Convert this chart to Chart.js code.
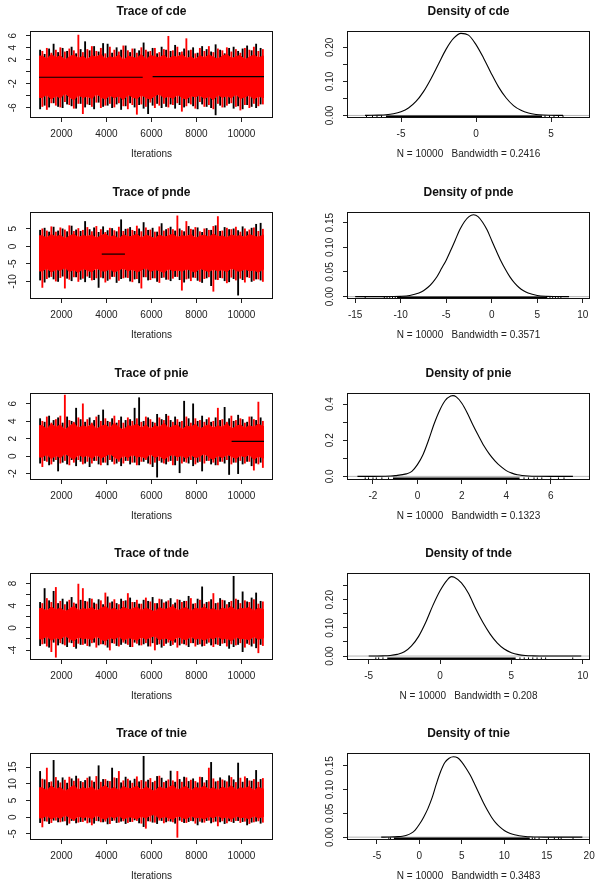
<!DOCTYPE html>
<html><head><meta charset="utf-8">
<script src="https://cdn.jsdelivr.net/npm/chart.js@4.4.1/dist/chart.umd.min.js"></script>
<style>
html,body{margin:0;padding:0;background:#fff;}
body{width:604px;height:888px;position:relative;overflow:hidden;}
.panel{position:absolute;}
canvas{display:block;}
</style></head><body>
<script>
// ---------------- DATA ----------------
const params = ["cde", "pnde", "pnie", "tnde", "tnie"];
const bandwidths = ["0.2416", "0.3571", "0.1323", "0.208", "0.3483"];
const sampleSize = 10000;
const traceXRange = [601, 11400];
const chainRange = [1001, 11000];
const traceXTicks = [2000, 4000, 6000, 8000, 10000];
const traceXLabels = ["2000", "4000", "6000", "8000", "10000"];

// iteration bins at which the extremes of each chain were read (black chain / red chain)
const blackIter = [1050,1250,1450,1650,1850,2050,2250,2450,2650,2850,3050,3250,3450,3650,3850,4050,4250,4450,4650,4850,5050,5250,5450,5650,5850,6050,6250,6450,6650,6850,7050,7250,7450,7650,7850,8050,8250,8450,8650,8850,9050,9250,9450,9650,9850,10050,10250,10450,10650,10850];
const redIter = [1150,1350,1550,1750,1950,2150,2350,2550,2750,2950,3150,3350,3550,3750,3950,4150,4350,4550,4750,4950,5150,5350,5550,5750,5950,6150,6350,6550,6750,6950,7150,7350,7550,7750,7950,8150,8350,8550,8750,8950,9150,9350,9550,9750,9950,10150,10350,10550,10750,10950];

// cde trace
const cdeBlackHi = [3.6,2.9,3.8,4.6,3.2,3.9,3.4,4.1,3.0,3.7, 5.0,3.5,4.2,3.3,4.7,4.6,3.1,4.0,3.6,4.3, 3.2,3.8,3.5,4.8,3.3,3.9,3.0,4.1,3.6,3.4, 4.4,3.2,3.8,3.5,4.0,3.1,4.2,3.7,3.3,4.5, 3.6,3.0,3.9,4.1,3.4,3.8,4.3,3.5,4.6,3.9];
const cdeBlackLo = [-6.2,-5.6,-5.9,-5.2,-5.8,-6.0,-5.4,-5.7,-6.1,-5.3, -5.9,-5.5,-6.2,-5.1,-5.8,-5.6,-6.0,-5.4,-6.3,-5.7, -5.2,-5.9,-5.5,-6.1,-7.0,-5.6,-5.3,-6.0,-5.8,-5.4, -6.1,-5.5,-5.9,-5.2,-5.7,-6.2,-5.4,-5.8,-6.0,-7.2, -5.6,-5.9,-5.3,-6.1,-5.7,-6.2,-5.5,-5.8,-6.0,-5.4];
const cdeRedHi = [3.4,3.9,3.1,3.6,4.0,3.3,3.8,3.5,6.1,3.2, 3.7,4.2,3.4,3.9,3.0,4.1,3.6,3.3,4.3,3.5, 3.8,3.1,4.0,3.6,3.4,3.9,3.2,3.7,5.9,3.5, 4.1,3.3,5.5,3.6,3.0,3.9,3.4,4.2,3.2,3.8, 3.5,4.0,3.3,3.7,3.1,3.9,3.6,4.1,3.4,3.7];
const cdeRedLo = [-5.8,-6.3,-5.2,-5.6,-5.9,-5.0,-5.5,-6.1,-5.3,-7.0, -5.4,-5.8,-5.1,-6.0,-5.6,-5.3,-5.9,-5.2,-5.7,-6.2, -5.5,-7.1,-5.4,-5.8,-5.1,-6.0,-5.6,-5.3,-5.9,-5.5, -5.2,-6.6,-5.7,-5.4,-6.1,-5.0,-5.8,-5.5,-6.2,-5.3, -5.9,-5.6,-5.2,-5.8,-6.4,-5.5,-6.0,-5.3,-5.7,-5.4];
const cdeEnvHi = [2.6,2.1,2.9,2.3,2.7,1.9,2.5,2.8,2.2,2.6, 2.0,2.7,2.4,2.9,2.1,2.5,2.3,2.8,1.9,2.6, 2.4,2.2,2.9,2.0,2.7,2.5,2.3,2.8,2.1,2.6, 2.4,2.9,2.2,2.5,2.0,2.7,2.3,2.8,2.4,2.1, 2.6,2.9,2.2,2.5,2.7,2.0,2.4,2.8,2.3,2.6];
const cdeEnvLo = [-4.3,-3.8,-4.6,-4.0,-4.4,-3.6,-4.2,-4.7,-3.9,-4.3, -4.1,-4.5,-3.7,-4.2,-4.6,-3.9,-4.4,-4.0,-4.7,-3.8, -4.2,-4.5,-3.9,-4.3,-4.6,-4.0,-3.7,-4.4,-4.1,-4.5, -3.8,-4.3,-4.6,-4.0,-4.2,-3.9,-4.5,-4.1,-4.7,-3.8, -4.3,-4.0,-4.4,-3.7,-4.5,-4.2,-3.9,-4.6,-4.1,-4.3];
const cdeCore = [-3.5, 1.8];
const cdeFlat = [[1001, 5610, -0.93], [6050, 11000, -0.82]];
const cdeTraceY = [-7.72, 6.78];
const cdeTraceTicks = [-6, -4, -2, 0, 2, 4, 6];
const cdeTraceLabels = ["-6", "", "-2", "", "2", "4", "6"];

// pnde trace
const pndeBlackHi = [4.6,5.2,4.1,5.5,4.4,5.0,4.2,5.8,4.7,4.3, 7.1,4.8,5.3,4.0,5.6,4.5,5.1,4.2,7.6,4.9, 5.4,4.3,5.0,6.8,4.6,5.2,4.1,6.5,4.8,5.5, 4.4,5.0,4.2,5.7,4.7,5.3,4.0,5.1,4.6,5.9, 4.3,5.4,4.8,5.0,4.5,5.6,4.2,5.2,6.3,6.6];
const pndeBlackLo = [-9.6,-10.2,-8.8,-9.3,-10.0,-8.5,-9.1,-9.8,-8.7,-9.4, -10.1,-8.9,-9.5,-11.7,-9.0,-9.7,-8.6,-10.3,-9.2,-8.8, -9.9,-9.3,-10.4,-8.7,-9.6,-9.0,-10.0,-8.9,-9.4,-9.8, -8.6,-9.5,-10.2,-9.1,-8.8,-9.7,-10.3,-9.0,-11.2,-9.4, -8.9,-9.8,-10.1,-9.2,-13.9,-9.5,-8.7,-10.0,-9.3,-9.6];
const pndeRedHi = [5.0,4.4,5.6,4.1,5.3,4.7,5.9,4.3,5.1,4.6, 5.4,4.2,5.7,4.8,4.0,5.2,4.5,5.5,4.3,5.0, 4.6,5.8,4.2,5.3,4.7,4.1,5.6,4.4,5.1,4.8, 8.7,4.5,7.1,4.9,5.4,4.2,5.0,4.6,5.7,8.5, 4.4,5.2,4.8,5.5,4.1,5.0,4.7,5.3,4.3,4.9];
const pndeRedLo = [-11.7,-9.2,-8.6,-9.9,-8.9,-11.9,-9.4,-8.7,-10.0,-9.1, -8.5,-9.6,-9.0,-8.8,-10.2,-9.3,-8.6,-9.7,-9.0,-8.9, -10.1,-9.2,-11.9,-8.7,-9.5,-9.0,-10.3,-8.8,-9.4,-9.1, -8.6,-12.5,-9.3,-9.8,-8.9,-10.0,-9.2,-8.7,-12.8,-9.5, -9.0,-10.4,-8.8,-9.6,-9.1,-10.2,-8.9,-9.7,-9.3,-10.0];
const pndeEnvHi = [3.0,2.4,3.4,2.7,3.2,2.2,2.9,3.5,2.5,3.1, 2.8,3.3,2.3,3.0,3.6,2.6,3.1,2.1,3.4,2.7, 2.9,3.5,2.4,3.2,2.8,2.2,3.3,2.6,3.0,3.5, 2.5,3.1,2.8,3.4,2.3,2.9,3.2,2.6,3.6,2.7, 3.0,2.4,3.3,2.8,3.1,2.5,3.4,2.9,2.6,3.2];
const pndeEnvLo = [-7.0,-6.2,-7.4,-6.5,-6.9,-6.0,-7.2,-6.6,-7.5,-6.3, -6.8,-7.3,-6.1,-6.9,-7.1,-6.4,-7.4,-6.7,-6.2,-7.0, -6.5,-7.3,-6.8,-6.0,-7.2,-6.6,-6.9,-7.5,-6.3,-7.0, -6.7,-7.1,-6.4,-6.9,-7.4,-6.2,-6.8,-7.2,-6.5,-7.0, -6.6,-7.3,-6.1,-6.9,-7.1,-6.4,-7.0,-6.7,-7.4,-6.5];
const pndeCore = [-5.8, 2.0];
const pndeFlat = [[3790, 4820, -2.2]];
const pndeTraceY = [-15.0, 9.8];
const pndeTraceTicks = [-10, -5, 0, 5];
const pndeTraceLabels = ["-10", "-5", "0", "5"];

// pnie trace
const pnieBlackHi = [4.3,3.9,4.6,4.1,4.4,3.8,4.5,4.0,5.5,4.2, 3.9,4.4,4.1,4.7,5.3,4.0,4.3,3.8,4.5,4.1, 4.2,5.5,6.7,4.0,4.4,3.9,4.8,4.2,4.8,4.1, 4.5,3.9,6.3,4.3,6.0,4.0,4.6,4.2,3.9,4.4, 4.1,5.6,4.3,4.0,4.7,4.2,3.9,4.5,4.1,4.4];
const pnieBlackLo = [-0.8,-0.5,-1.0,-0.6,-1.7,-0.7,-0.9,-0.4,-1.1,-0.6, -0.8,-1.2,-0.5,-0.9,-0.7,-1.0,-0.6,-0.8,-1.1,-0.5, -0.9,-0.7,-1.0,-0.6,-0.8,-1.2,-2.4,-0.7,-0.9,-0.5, -1.0,-1.9,-0.6,-0.8,-1.1,-0.7,-1.7,-0.5,-0.9,-1.0, -0.6,-0.8,-2.1,-0.7,-2.0,-0.9,-0.6,-1.1,-0.8,-0.7];
const pnieRedHi = [4.0,4.5,3.8,4.2,4.6,7.0,4.1,3.9,4.4,6.0, 4.2,3.8,4.5,4.0,4.3,3.9,4.6,4.1,3.8,4.4, 4.0,4.3,3.9,4.5,4.2,3.8,4.4,4.1,4.6,3.9, 4.2,4.0,4.5,3.8,4.3,4.1,3.9,4.4,4.0,5.5, 4.2,3.9,4.6,4.1,4.3,3.8,4.5,4.2,6.2,4.0];
const pnieRedLo = [-1.2,-0.6,-0.9,-0.4,-0.8,-0.5,-1.0,-0.7,-0.4,-0.9, -0.6,-0.8,-0.5,-1.0,-0.7,-0.4,-0.9,-0.6,-0.8,-0.5, -0.7,-1.0,-0.6,-0.4,-0.9,-0.7,-0.5,-0.8,-0.6,-1.0, -0.5,-0.8,-0.7,-0.4,-0.9,-0.6,-0.8,-0.5,-0.7,-1.0, -0.6,-0.4,-0.9,-0.7,-0.5,-0.8,-0.6,-1.6,-0.9,-1.3];
const pnieEnvHi = [3.5,3.1,3.7,3.3,3.6,3.0,3.4,3.8,3.2,3.5, 3.3,3.7,3.1,3.4,3.6,3.2,3.8,3.3,3.0,3.5, 3.4,3.7,3.2,3.6,3.1,3.5,3.3,3.8,3.2,3.4, 3.6,3.0,3.5,3.3,3.7,3.1,3.4,3.6,3.2,3.5, 3.3,3.8,3.1,3.4,3.6,3.2,3.5,3.3,3.7,3.4];
const pnieEnvLo = [-0.1,0.2,-0.3,0.1,-0.2,0.3,0.0,-0.4,0.2,-0.1, 0.1,-0.3,0.2,-0.2,0.0,0.3,-0.1,-0.4,0.1,-0.2, 0.2,-0.1,0.0,-0.3,0.3,-0.2,0.1,-0.4,0.0,0.2, -0.1,0.1,-0.3,0.2,-0.2,0.0,0.3,-0.1,-0.4,0.1, -0.2,0.2,0.0,-0.3,0.1,-0.1,0.2,-0.4,0.0,-0.2];
const pnieCore = [0.3, 3.0];
const pnieFlat = [[9560, 11000, 1.7]];
const pnieTraceY = [-2.73, 7.24];
const pnieTraceTicks = [-2, 0, 2, 4, 6];
const pnieTraceLabels = ["-2", "0", "2", "4", "6"];

// tnde trace
const tndeBlackHi = [4.6,7.1,4.9,6.6,4.4,5.2,4.7,5.5,4.3,5.0, 4.8,5.3,4.5,5.1,4.2,5.6,4.7,4.4,5.2,4.9, 5.4,4.6,4.3,5.0,4.8,5.5,4.4,5.1,4.7,5.3, 4.5,5.0,4.8,5.7,4.3,5.2,7.4,4.6,5.1,4.4, 5.3,4.9,4.6,9.3,5.0,6.5,4.7,5.4,6.3,4.8];
const tndeBlackLo = [-3.2,-2.8,-3.5,-2.6,-3.1,-2.9,-3.4,-2.7,-3.7,-3.0, -2.8,-3.3,-2.6,-3.1,-2.9,-3.5,-2.7,-3.2,-3.0,-2.8, -3.4,-2.6,-3.1,-2.9,-3.3,-2.7,-3.0,-3.5,-2.8,-3.2, -2.6,-3.1,-2.9,-3.4,-2.7,-3.0,-3.3,-2.8,-3.1,-2.9, -3.2,-2.7,-3.7,-3.4,-3.0,-4.3,-2.8,-3.3,-3.6,-3.0];
const tndeRedHi = [4.4,5.3,4.6,7.3,4.8,4.2,5.0,4.5,7.9,7.1, 4.7,5.2,4.3,4.9,6.3,4.5,5.1,4.2,4.8,6.2, 4.6,5.0,4.3,5.4,4.7,4.4,5.2,4.5,4.9,4.2, 5.1,4.6,4.8,5.3,4.4,5.0,4.3,4.7,6.2,4.5, 5.0,4.2,4.8,5.2,4.4,4.9,4.6,5.1,4.3,4.7];
const tndeRedLo = [-2.9,-3.3,-4.3,-5.3,-2.7,-3.1,-2.6,-3.4,-2.8,-3.0, -3.2,-2.7,-3.5,-2.9,-3.1,-4.0,-2.8,-3.3,-2.6,-3.0, -3.4,-2.8,-3.1,-2.7,-3.3,-4.0,-2.9,-3.2,-2.6,-3.0, -3.5,-2.8,-3.1,-2.7,-3.3,-2.9,-3.2,-2.6,-3.4,-3.0, -2.8,-3.3,-2.9,-3.1,-2.7,-3.5,-3.0,-2.8,-4.5,-3.2];
const tndeEnvHi = [3.5,3.0,3.8,3.2,3.6,2.9,3.4,3.9,3.1,3.5, 3.3,3.7,3.0,3.5,3.9,3.2,3.6,3.0,3.8,3.3, 3.4,3.8,3.1,3.6,3.2,2.9,3.7,3.3,3.5,3.9, 3.1,3.4,3.7,3.0,3.6,3.3,3.8,3.2,3.5,3.0, 3.6,3.3,3.9,3.1,3.5,3.4,3.7,3.0,3.6,3.3];
const tndeEnvLo = [-2.0,-1.5,-2.3,-1.7,-2.1,-1.4,-1.9,-2.4,-1.6,-2.0, -1.8,-2.2,-1.5,-2.0,-2.4,-1.7,-2.1,-1.5,-2.3,-1.8, -1.9,-2.3,-1.6,-2.1,-1.7,-1.4,-2.2,-1.8,-2.0,-2.4, -1.6,-1.9,-2.2,-1.5,-2.1,-1.8,-2.3,-1.7,-2.0,-1.5, -2.1,-1.8,-2.4,-1.6,-2.0,-1.9,-2.2,-1.5,-2.1,-1.8];
const tndeCore = [-1.4, 2.9];
const tndeFlat = [];
const tndeTraceY = [-5.8, 9.9];
const tndeTraceTicks = [-4, -2, 0, 2, 4, 6, 8];
const tndeTraceLabels = ["-4", "", "0", "", "4", "", "8"];

// tnie trace
const tnieBlackHi = [13.7,11.2,10.4,17.0,10.9,11.8,10.2,11.5,12.3,10.7, 11.0,12.1,10.5,15.4,11.3,10.8,14.7,11.6,10.3,12.0, 10.9,11.4,10.6,18.2,11.1,10.4,12.2,11.7,10.8,13.8, 10.5,11.3,12.0,10.7,11.5,10.3,11.9,11.0,16.4,10.6, 11.8,10.9,12.4,11.2,16.2,10.5,11.6,10.8,14.0,11.3];
const tnieBlackLo = [-1.6,-1.1,-1.9,-0.9,-1.4,-1.2,-2.3,-1.0,-1.7,-1.3, -0.9,-1.5,-1.8,-1.1,-1.4,-2.0,-1.0,-1.6,-1.2,-1.9, -1.3,-0.8,-1.7,-2.8,-1.1,-1.5,-1.9,-1.0,-1.4,-1.2, -1.8,-0.9,-1.6,-1.3,-1.1,-2.3,-1.5,-1.0,-1.7,-1.2, -1.4,-1.9,-1.1,-1.6,-1.0,-1.3,-2.3,-1.5,-1.2,-1.8];
const tnieRedHi = [11.4,14.7,10.6,11.9,10.3,11.1,12.0,10.8,11.5,10.4, 11.7,10.9,12.2,10.5,11.3,10.7,11.8,13.7,10.9,11.4, 10.2,12.1,11.0,10.6,11.6,10.8,12.3,10.4,11.2,10.9, 13.7,10.5,11.8,11.1,10.7,12.0,10.3,14.7,11.5,10.8, 11.2,10.6,11.9,10.4,11.7,12.1,10.9,11.3,10.5,11.6];
const tnieRedLo = [-2.9,-1.2,-1.6,-0.9,-1.4,-1.1,-1.8,-1.0,-1.5,-1.3, -1.7,-2.3,-1.0,-1.4,-1.2,-1.9,-0.9,-1.5,-1.1,-1.6, -1.3,-1.0,-1.8,-3.3,-1.2,-1.5,-0.9,-1.7,-1.1,-1.4, -6.0,-1.3,-1.6,-1.0,-1.8,-1.2,-1.5,-0.9,-1.4,-2.6, -1.1,-1.7,-1.3,-1.0,-1.6,-1.2,-1.9,-1.4,-1.1,-1.5];
const tnieEnvHi = [8.8,7.9,9.4,8.3,9.0,7.7,8.6,9.6,8.1,8.9, 8.4,9.2,7.8,8.7,9.5,8.2,9.0,7.9,9.3,8.5, 8.6,9.4,8.0,9.1,8.3,7.7,9.2,8.4,8.8,9.6, 8.1,8.7,9.3,7.8,9.0,8.5,9.4,8.2,8.9,7.9, 9.1,8.4,9.5,8.0,8.8,8.6,9.2,7.8,9.0,8.4];
const tnieEnvLo = [-0.2,0.5,-0.6,0.3,-0.4,0.7,0.0,-0.8,0.4,-0.2, 0.2,-0.5,0.6,-0.1,-0.7,0.4,-0.3,0.5,-0.6,0.1, 0.0,-0.5,0.3,-0.3,0.6,0.8,-0.4,0.2,-0.1,-0.7, 0.4,0.0,-0.5,0.5,-0.3,0.1,-0.6,0.3,-0.2,0.6, -0.4,0.2,-0.7,0.4,-0.1,0.0,-0.5,0.5,-0.3,0.2];
const tnieCore = [0.8, 7.6];
const tnieFlat = [];
const tnieTraceY = [-6.8, 19.2];
const tnieTraceTicks = [-5, 0, 5, 10, 15];
const tnieTraceLabels = ["-5", "0", "5", "10", "15"];

// density curves
const cdeDensX = [-7.4,-7,-6.5,-6,-5.5,-5,-4.5,-4,-3.5,-3,-2.5,-2,-1.5,-1,-0.5,0,0.5,1,1.5,2,2.5,3,3.5,4,4.5,5,5.5,5.8];
const cdeDensY = [0.0002,0.0004,0.0009,0.002,0.005,0.011,0.022,0.041,0.07,0.108,0.151,0.194,0.226,0.241,0.236,0.208,0.169,0.125,0.084,0.052,0.029,0.015,0.007,0.003,0.0012,0.0005,0.0002,0.0001];
const cdeRugDense = [-6.0, 4.4];
const cdeRugTicks = [-7.3, -6.9, -6.6, -6.3, 4.6, 4.9, 5.2, 5.5, 5.8];
const cdeDensXRange = [-8.6, 7.6];
const cdeDensYRange = [-0.0075, 0.248];
const cdeDensXTicks = [-5, 0, 5];
const cdeDensYTicks = [0, 0.05, 0.1, 0.15, 0.2];
const cdeDensYLabels = ["0.00", "", "0.10", "", "0.20"];

const pndeDensX = [-15,-13,-12,-11,-10,-9,-8,-7.5,-7,-6.5,-6,-5.5,-5,-4.5,-4,-3.5,-3,-2.5,-2,-1.5,-1,-0.5,0,0.5,1,1.5,2,2.5,3,3.5,4,5,6,7,8.5];
const pndeDensY = [0,0.00001,0.00003,0.00015,0.0006,0.0024,0.0073,0.012,0.019,0.0286,0.041,0.0574,0.074,0.094,0.115,0.136,0.152,0.1624,0.166,0.1624,0.151,0.135,0.114,0.093,0.073,0.0555,0.04,0.0278,0.0185,0.0118,0.0072,0.0024,0.0006,0.00015,0];
const pndeRugDense = [-10.4, 6.1];
const pndeRugTicks = [-13.9, -11.8, -11.5, -11.2, -10.9, -10.6, 6.4, 6.7, 7.0, 7.3, 7.6];
const pndeDensXRange = [-15.9, 10.8];
const pndeDensYRange = [-0.0048, 0.1717];
const pndeDensXTicks = [-15, -10, -5, 0, 5, 10];
const pndeDensYTicks = [0, 0.05, 0.1, 0.15];
const pndeDensYLabels = ["0.00", "0.05", "0.10", "0.15"];

const pnieDensX = [-2.7,-2,-1.5,-1.2,-1,-0.5,-0.25,0,0.25,0.5,0.75,1,1.25,1.5,1.6,1.75,2,2.25,2.5,2.75,3,3.25,3.5,3.75,4,4.25,4.5,5,5.5,6,7];
const pnieDensY = [0,0.0003,0.001,0.002,0.004,0.014,0.028,0.065,0.12,0.2,0.29,0.365,0.42,0.445,0.447,0.44,0.405,0.35,0.285,0.225,0.168,0.122,0.085,0.055,0.032,0.018,0.009,0.002,0.0005,0.0001,0];
const pnieRugDense = [-1.1, 4.6];
const pnieRugTicks = [-2.35, -2.2, -2.0, -1.85, -1.6, -1.3, 4.8, 5.0, 5.25, 5.4, 5.6, 6.0, 6.35, 6.6];
const pnieDensXRange = [-3.17, 7.77];
const pnieDensYRange = [-0.02, 0.4616];
const pnieDensXTicks = [-2, 0, 2, 4, 6];
const pnieDensYTicks = [0, 0.1, 0.2, 0.3, 0.4];
const pnieDensYLabels = ["0.0", "", "0.2", "", "0.4"];

const tndeDensX = [-5,-4.5,-4,-3.5,-3,-2.5,-2,-1.5,-1,-0.5,0,0.5,0.8,1,1.5,2,2.5,3,3.5,4,4.5,5,5.5,6,6.5,7,7.5,9.9];
const tndeDensY = [0,0.0003,0.0008,0.002,0.006,0.015,0.036,0.07,0.12,0.18,0.232,0.27,0.282,0.28,0.26,0.222,0.168,0.12,0.079,0.047,0.025,0.012,0.005,0.002,0.0008,0.0003,0.0001,0];
const tndeRugDense = [-3.7, 5.3];
const tndeRugTicks = [-4.5, -4.3, -4.0, 5.6, 5.9, 6.2, 6.5, 6.8, 7.1, 7.4, 9.3];
const tndeDensXRange = [-6.52, 10.51];
const tndeDensYRange = [-0.014, 0.295];
const tndeDensXTicks = [-5, 0, 5, 10];
const tndeDensYTicks = [0, 0.05, 0.1, 0.15, 0.2, 0.25];
const tndeDensYLabels = ["0.00", "", "0.10", "", "0.20", ""];

const tnieDensX = [-4.5,-3.5,-3,-2.5,-2,-1.5,-1,-0.5,0,0.5,1,1.5,2,2.5,3,3.5,4,4.5,5,5.5,6,6.5,7,7.5,8,8.5,9,9.5,10,10.5,11,11.5,12,12.5,13,13.5,14,15,16,17,19.2];
const tnieDensY = [0,0.0002,0.0005,0.001,0.002,0.004,0.008,0.015,0.027,0.042,0.06,0.083,0.112,0.138,0.157,0.166,0.169,0.167,0.158,0.145,0.13,0.112,0.093,0.074,0.057,0.042,0.03,0.021,0.014,0.009,0.006,0.004,0.0025,0.0015,0.0008,0.0004,0.0002,0.0001,0.00005,0.00002,0];
const tnieRugDense = [-3.0, 13.0];
const tnieRugTicks = [-3.6, -3.4, 13.3, 13.6, 14.1, 15.2, 15.9, 16.4, 16.7, 18.1];
const tnieDensXRange = [-8.53, 20.1];
const tnieDensYRange = [-0.006, 0.177];
const tnieDensXTicks = [-5, 0, 5, 10, 15, 20];
const tnieDensYTicks = [0, 0.05, 0.1, 0.15];
const tnieDensYLabels = ["0.00", "0.05", "0.10", "0.15"];

// ---------------- LAYOUT / STYLE ----------------
const FONT = "'Liberation Sans', Arial, Helvetica, sans-serif";
const TEXT = '#222';
const RED = '#ff0000';
const rowBoxTop = [31, 212, 393, 573, 753];
const BOX_H = 87;
const TITLE_H = 32;
const XAXIS_H = 45;
const CANVAS_W = 302;
const CANVAS_H = 167;
const YAXIS_W = 30;
const traceBox = [30, 273];
const densBox = [45, 288];

const traceSets = {
  cde:  {bh: cdeBlackHi,  bl: cdeBlackLo,  rh: cdeRedHi,  rl: cdeRedLo,  eh: cdeEnvHi,  el: cdeEnvLo,  core: cdeCore,  flat: cdeFlat,  yr: cdeTraceY,  yt: cdeTraceTicks,  yl: cdeTraceLabels},
  pnde: {bh: pndeBlackHi, bl: pndeBlackLo, rh: pndeRedHi, rl: pndeRedLo, eh: pndeEnvHi, el: pndeEnvLo, core: pndeCore, flat: pndeFlat, yr: pndeTraceY, yt: pndeTraceTicks, yl: pndeTraceLabels},
  pnie: {bh: pnieBlackHi, bl: pnieBlackLo, rh: pnieRedHi, rl: pnieRedLo, eh: pnieEnvHi, el: pnieEnvLo, core: pnieCore, flat: pnieFlat, yr: pnieTraceY, yt: pnieTraceTicks, yl: pnieTraceLabels},
  tnde: {bh: tndeBlackHi, bl: tndeBlackLo, rh: tndeRedHi, rl: tndeRedLo, eh: tndeEnvHi, el: tndeEnvLo, core: tndeCore, flat: tndeFlat, yr: tndeTraceY, yt: tndeTraceTicks, yl: tndeTraceLabels},
  tnie: {bh: tnieBlackHi, bl: tnieBlackLo, rh: tnieRedHi, rl: tnieRedLo, eh: tnieEnvHi, el: tnieEnvLo, core: tnieCore, flat: tnieFlat, yr: tnieTraceY, yt: tnieTraceTicks, yl: tnieTraceLabels}
};
const densSets = {
  cde:  {x: cdeDensX,  y: cdeDensY,  rd: cdeRugDense,  rt: cdeRugTicks,  xr: cdeDensXRange,  yr: cdeDensYRange,  xt: cdeDensXTicks,  yt: cdeDensYTicks,  yl: cdeDensYLabels},
  pnde: {x: pndeDensX, y: pndeDensY, rd: pndeRugDense, rt: pndeRugTicks, xr: pndeDensXRange, yr: pndeDensYRange, xt: pndeDensXTicks, yt: pndeDensYTicks, yl: pndeDensYLabels},
  pnie: {x: pnieDensX, y: pnieDensY, rd: pnieRugDense, rt: pnieRugTicks, xr: pnieDensXRange, yr: pnieDensYRange, xt: pnieDensXTicks, yt: pnieDensYTicks, yl: pnieDensYLabels},
  tnde: {x: tndeDensX, y: tndeDensY, rd: tndeRugDense, rt: tndeRugTicks, xr: tndeDensXRange, yr: tndeDensYRange, xt: tndeDensXTicks, yt: tndeDensYTicks, yl: tndeDensYLabels},
  tnie: {x: tnieDensX, y: tnieDensY, rd: tnieRugDense, rt: tnieRugTicks, xr: tnieDensXRange, yr: tnieDensYRange, xt: tnieDensXTicks, yt: tnieDensYTicks, yl: tnieDensYLabels}
};

const mctx = document.createElement('canvas').getContext('2d');
function widest(labels) {
  mctx.font = 'normal 10px ' + FONT;
  let w = 0;
  labels.forEach(l => { if (l) w = Math.max(w, mctx.measureText(l).width); });
  return w;
}

const boxPlugin = {
  id: 'rbox',
  afterDatasetsDraw(chart) {
    const a = chart.chartArea, ctx = chart.ctx;
    ctx.save();
    ctx.strokeStyle = '#111';
    ctx.lineWidth = 1;
    ctx.strokeRect(Math.round(a.left) + 0.5, Math.round(a.top) + 0.5, Math.round(a.right - a.left) - 1, Math.round(a.bottom - a.top) - 1);
    ctx.restore();
  }
};

const gridCfg = {display: true, drawOnChartArea: false, drawTicks: true, tickLength: 4, tickColor: '#222', lineWidth: 1, offset: false};

function yAxis(range, ticks, labels) {
  const w = widest(labels);
  return {
    type: 'linear', min: range[0], max: range[1],
    afterBuildTicks: s => { s.ticks = ticks.map(v => ({value: v})); },
    afterFit: s => { s.width = YAXIS_W; },
    grid: gridCfg,
    border: {display: false},
    ticks: {
      autoSkip: false, minRotation: 90, maxRotation: 90, crossAlign: 'center',
      padding: 12.7 - w / 2,
      font: {family: FONT, size: 10}, color: TEXT,
      callback: (v, i) => labels[i] || ''
    }
  };
}
function xAxis(range, ticks, labels, titleText) {
  return {
    type: 'linear', min: range[0], max: range[1], offset: false,
    afterBuildTicks: s => { s.ticks = ticks.map(v => ({value: v})); },
    afterFit: s => { s.height = XAXIS_H; },
    grid: gridCfg,
    border: {display: false},
    ticks: {
      autoSkip: false, minRotation: 0, maxRotation: 0, padding: 6.5,
      font: {family: FONT, size: 10}, color: TEXT,
      callback: (v, i) => labels[i]
    },
    title: {display: true, text: titleText, font: {family: FONT, size: 10}, color: TEXT, padding: {top: 0, bottom: 2.5}}
  };
}
function baseOptions(titleText, box) {
  return {
    responsive: false, animation: false, devicePixelRatio: 1, events: [],
    layout: {padding: {top: 0, left: box[0] - YAXIS_W, right: CANVAS_W - box[1], bottom: CANVAS_H - TITLE_H - BOX_H - XAXIS_H}},
    plugins: {
      legend: {display: false}, tooltip: {enabled: false},
      title: {display: true, text: titleText, fullSize: false, color: '#111',
        font: {family: FONT, size: 12, weight: 'bold'}, padding: {top: 5.8, bottom: 11.8}}
    }
  };
}
function addCanvas(left, top) {
  const d = document.createElement('div');
  d.className = 'panel';
  d.style.left = left + 'px';
  d.style.top = top + 'px';
  const c = document.createElement('canvas');
  c.width = CANVAS_W; c.height = CANVAS_H;
  c.style.width = CANVAS_W + 'px'; c.style.height = CANVAS_H + 'px';
  d.appendChild(c);
  document.body.appendChild(d);
  return c;
}

function makeTrace(row, name) {
  const T = traceSets[name];
  const c = addCanvas(0, rowBoxTop[row] - TITLE_H);
  const envHiPts = [{x: chainRange[0], y: T.eh[0]}].concat(redIter.map((x, i) => ({x, y: T.eh[i]})), [{x: chainRange[1], y: T.eh[T.eh.length - 1]}]);
  const envLoPts = [{x: chainRange[0], y: T.el[0]}].concat(redIter.map((x, i) => ({x, y: T.el[i]})), [{x: chainRange[1], y: T.el[T.el.length - 1]}]);
  const datasets = [
    {type: 'bar', data: blackIter.map((x, i) => ({x, y: [T.bl[i], T.bh[i]]})), backgroundColor: '#000',
      barThickness: 1.2, grouped: false, borderWidth: 0, order: 7},
    {type: 'line', data: [{x: chainRange[0], y: T.core[1]}, {x: chainRange[1], y: T.core[1]}],
      fill: {value: T.core[0]}, backgroundColor: RED, borderColor: RED, borderWidth: 1, pointRadius: 0, order: 6},
    {type: 'line', data: envHiPts, fill: '+1', backgroundColor: RED, borderColor: RED, borderWidth: 1, pointRadius: 0, order: 5},
    {type: 'line', data: envLoPts, fill: false, borderColor: RED, borderWidth: 1, pointRadius: 0, order: 4},
    {type: 'bar', data: redIter.map((x, i) => ({x, y: [T.rl[i], T.rh[i]]})), backgroundColor: RED,
      barThickness: 1.2, grouped: false, borderWidth: 0, order: 3}
  ];
  T.flat.forEach(seg => {
    datasets.push({type: 'line', data: [{x: seg[0], y: seg[2]}, {x: seg[1], y: seg[2]}],
      borderColor: '#000', borderWidth: 1.2, pointRadius: 0, fill: false, order: 1});
  });
  const opts = baseOptions('Trace of ' + name, traceBox);
  opts.scales = {
    x: xAxis(traceXRange, traceXTicks, traceXLabels, 'Iterations'),
    y: yAxis(T.yr, T.yt, T.yl)
  };
  new Chart(c, {type: 'bar', data: {datasets}, options: opts, plugins: [boxPlugin]});
}

function makeDensity(row, name, bw) {
  const D = densSets[name];
  const c = addCanvas(302, rowBoxTop[row] - TITLE_H);
  const rugY = D.yr[0] + 0.015 * (D.yr[1] - D.yr[0]);
  const datasets = [
    {data: [{x: D.xr[0], y: 0}, {x: D.xr[1], y: 0}], borderColor: '#b4b4b4', borderWidth: 1, pointRadius: 0, order: 4},
    {data: [{x: D.rd[0], y: rugY}, {x: D.rd[1], y: rugY}], borderColor: '#000', borderWidth: 2.6,
      borderCapStyle: 'butt', pointRadius: 0, order: 3},
    {data: D.rt.map(x => ({x, y: rugY})), showLine: false, pointStyle: 'line', pointRotation: 90,
      pointRadius: 1.3, pointBorderColor: '#000', pointBorderWidth: 1, order: 2},
    {data: D.x.map((x, i) => ({x, y: D.y[i]})), borderColor: '#000', borderWidth: 1.1, pointRadius: 0,
      cubicInterpolationMode: 'monotone', order: 1}
  ];
  const opts = baseOptions('Density of ' + name, densBox);
  opts.scales = {
    x: xAxis(D.xr, D.xt, D.xt.map(String), 'N = ' + sampleSize + '   Bandwidth = ' + bw),
    y: yAxis(D.yr, D.yt, D.yl)
  };
  new Chart(c, {type: 'line', data: {datasets}, options: opts, plugins: [boxPlugin]});
}

params.forEach((p, r) => {
  makeTrace(r, p);
  makeDensity(r, p, bandwidths[r]);
});
</script>
</body></html>
